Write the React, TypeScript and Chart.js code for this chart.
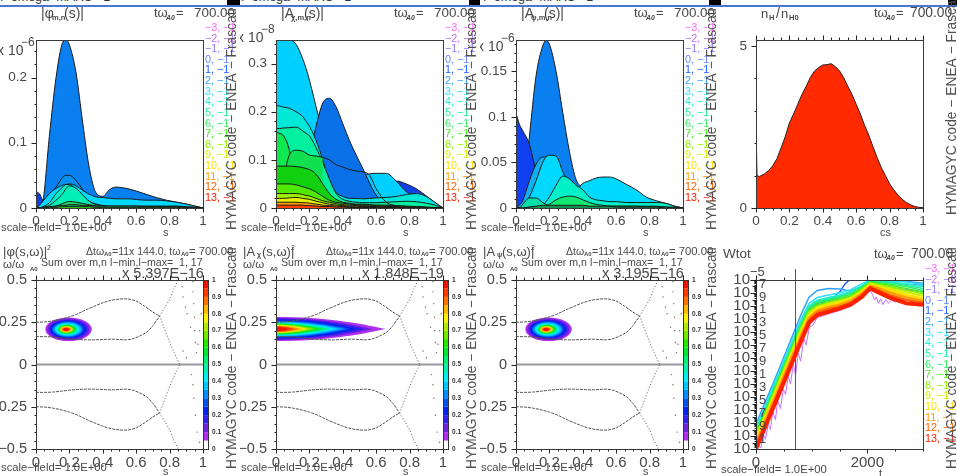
import React, { useEffect, useRef } from "react";
import { Chart, registerables } from "chart.js";
Chart.register(...registerables);

const FONT = '"Liberation Sans", Arial, sans-serif';
const modeLabels = ["−3, −1","−2, −1","−1, −1","0, −1","1, −1","2, −1","3, −1","4, −1","5, −1","6, −1","7, −1","8, −1","9, −1","10, −1","11, −1","12, −1","13, −1"];
const modeColors = ["#ff66ff","#c070ff","#9080ff","#6080ff","#2060ff","#30a0ff","#30e0ff","#20f0d0","#20f0a0","#30f060","#40f020","#90f000","#d0f000","#ffe000","#ffa000","#ff6000","#ff2000"];
const barColors = ["#ffffff","#b030f0","#7020e0","#3020f0","#0020f0","#0050f0","#0090ff","#00c8ff","#00f0f0","#00f0b0","#00f070","#00e830","#20e800","#70e800","#b0e800","#f8f000","#ffb800","#ff7000","#ff3800","#f01000"];
const barTicks = ["0","0.1","0.2","0.3","0.4","0.5","0.6","0.7","0.8","0.9","1"];

const S = [0,.02,.04,.08,.12,.16,.18,.2,.24,.28,.32,.36,.4,.44,.48,.52,.56,.6,.66,.72,.78,.84,.9,.95,1];

const phiCurves: [string, number[], number?][] = [
  ["#0a80f0",[0,0,.008,.11,.2,.254,.258,.25,.207,.13,.06,.023,.018,.028,.032,.031,.029,.026,.021,.016,.012,.009,.006,.003,0]],
  ["#1040e8",[.025,.022,.012,0,0,0,0,0,0,0,0,0,0,0,0,0,0,0,0,0,0,0,0,0,0]],
  ["#0a90f0",[0,.002,.006,.018,.032,.047,.05,.05,.042,.028,.014,.006,.003,.002,.001,.001,0,0,0,0,0,0,0,0,0]],
  ["#00d8ff",[0,.004,.01,.022,.03,.035,.036,.037,.034,.027,.021,.017,.016,.015,.014,.014,.014,.013,.012,.012,.011,.009,.006,.003,0]],
  ["#00f0c8",[0,0,.002,.008,.022,.032,.036,.036,.028,.018,.01,.006,.004,.003,.003,.003,.003,.003,.003,.003,.003,.003,.002,.001,0]],
  ["#00f0b8",[0,0,.001,.004,.012,.022,.03,.034,.03,.02,.01,.005,.003,.002,.002,.002,.002,.002,.002,.002,.002,.002,.001,.001,0]],
  ["#20d060",[0,0,0,.001,.003,.007,.009,.01,.009,.007,.005,.003,.002,.002,.002,.002,.002,.002,.001,.001,.001,.001,.001,0,0]],
  ["#10a060",[0,0,.001,.002,.003,.004,.004,.005,.005,.004,.004,.003,.003,.003,.003,.003,.003,.003,.002,.002,.002,.002,.001,.001,0]],
  ["#30e000",[0,0,0,.001,.001,.002,.002,.002,.002,.002,.002,.001,.001,.001,.001,.001,.001,.001,.001,.001,.001,.001,0,0,0]],
];

const chiCurves: [string, number[], number?][] = [
  ["#1040e8",[0,0,0,0,0,0,0,0,0,0,0,0,.01,.02,.03,.04,.045,.05,.054,.056,.05,.04,.025,.012,0]],
  ["#00d0ff",[.349,.349,.349,.349,.34,.31,.29,.266,.21,.155,.1,.062,.05,.056,.062,.068,.071,.072,.072,.056,.034,.025,.018,.008,0]],
  ["#0a70e8",[0,0,0,0,.002,.05,.078,.107,.17,.218,.228,.21,.175,.14,.11,.082,.052,.027,.01,.002,0,0,0,0,0]],
  ["#00e8d8",[.213,.212,.21,.207,.2,.19,.18,.17,.14,.1,.052,.032,.024,.02,.02,.019,.02,.021,.022,.024,.028,.03,.024,.012,0]],
  ["#00f0a0",[.165,.165,.166,.167,.168,.16,.155,.15,.125,.095,.06,.03,.018,.014,.012,.011,.011,.011,.012,.013,.014,.013,.01,.006,0]],
  ["#10e850",[.158,.155,.152,.12,.04,.006,.003,.002,.002,.002,.002,.002,.002,.002,.002,.002,.002,.002,.002,.002,.002,.002,.001,.001,0]],
  ["#10e050",[0,.01,.05,.11,.12,.118,.114,.11,.108,.105,.1,.09,.085,.08,.077,.075,.068,.04,.012,.005,.003,.002,.001,0,0],.28],
  ["#10d010",[.087,.087,.087,.087,.086,.084,.082,.08,.07,.05,.03,.018,.012,.01,.008,.008,.007,.006,.006,.005,.004,.003,.002,.001,0]],
  ["#50e800",[.05,.05,.05,.05,.048,.044,.042,.04,.033,.024,.016,.012,.01,.008,.007,.006,.006,.005,.004,.004,.003,.002,.001,0,0]],
  ["#a0f000",[.03,.03,.03,.03,.03,.028,.026,.025,.02,.015,.012,.009,.007,.006,.005,.005,.004,.004,.003,.003,.002,.002,.001,0,0]],
  ["#e8f000",[.02,.02,.02,.021,.022,.02,.019,.018,.014,.011,.008,.006,.005,.004,.004,.003,.003,.003,.002,.002,.001,.001,0,0,0]],
  ["#ffa000",[.012,.012,.012,.012,.012,.011,.011,.01,.008,.006,.005,.004,.003,.003,.002,.002,.002,.002,.001,.001,.001,0,0,0,0]],
  ["#ff4000",[.006,.006,.006,.006,.006,.006,.005,.005,.004,.003,.003,.002,.002,.001,.001,.001,.001,.001,0,0,0,0,0,0,0]],
];

const psiCurves: [string, number[], number?][] = [
  ["#0a80f0",[0,0,.008,.078,.145,.178,.184,.18,.15,.105,.062,.031,.022,.012,.008,.006,.004,.003,.002,.001,0,0,0,0,0]],
  ["#1040f0",[.104,.092,.085,.07,.04,.015,.01,.005,0,0,0,0,0,0,0,0,0,0,0,0,0,0,0,0,0]],
  ["#10b0f0",[0,.003,.008,.03,.048,.056,.056,.053,.035,.015,.005,.002,.001,0,0,0,0,0,0,0,0,0,0,0,0]],
  ["#00d8ff",[0,0,.002,.012,.03,.05,.056,.058,.057,.04,.024,.02,.027,.03,.033,.034,.034,.032,.026,.02,.012,.008,.005,.002,0]],
  ["#00f0c8",[0,0,0,0,.001,.003,.007,.012,.025,.035,.032,.025,.02,.012,.009,.008,.007,.007,.006,.006,.006,.006,.005,.002,0]],
  ["#00e0a8",[0,0,.004,.011,.011,.006,.004,.003,.002,.002,.002,.002,.002,.002,.002,.002,.002,.002,.002,.002,.002,.002,.001,.001,0]],
  ["#10e870",[0,0,0,.001,.001,.002,.002,.004,.009,.012,.013,.012,.009,.006,.004,.003,.002,.002,.002,.002,.001,.001,.001,0,0]],
  ["#109050",[0,0,0,.001,.002,.003,.003,.003,.003,.003,.003,.003,.003,.002,.002,.002,.002,.001,.001,.001,.001,.001,0,0,0]],
];

const csGrid = [0,.002,.006,.02,.05,.075,.1,.125,.15,.175,.2,.225,.25,.275,.3,.325,.35,.375,.4,.425,.45,.475,.5,.525,.55,.575,.6,.625,.65,.675,.7,.725,.75,.775,.8,.825,.85,.875,.9,.925,.95,.975,1];
const density = [4.1,2.1,1.0,.97,1.05,1.15,1.3,1.52,1.85,2.2,2.62,2.9,3.2,3.5,3.75,4.02,4.22,4.33,4.41,4.42,4.45,4.36,4.23,4.02,3.75,3.5,3.2,2.9,2.55,2.25,1.9,1.56,1.25,1.0,.75,.56,.4,.27,.17,.1,.05,.02,.01];

const upperS = [0,.05,.1,.15,.2,.25,.3,.35,.4,.45,.5,.55,.6,.65,.7,.74];
const upperW = [.25,.252,.258,.268,.282,.3,.324,.345,.365,.38,.387,.388,.375,.345,.31,.287];
const lowerS = [0,.05,.1,.15,.2,.25,.3,.35,.4,.45,.5,.54,.58,.62,.66,.7,.74];
const lowerW = [.165,.165,.163,.158,.152,.148,.146,.146,.148,.15,.148,.146,.152,.168,.19,.23,.287];
const riseS = [.74,.77,.8,.825,.85];
const riseW = [.287,.335,.387,.445,.5];
const fallS = [.74,.77,.8,.83,.86];
const fallW = [.287,.21,.13,.065,0];
const dotS = [.87,.875,.88,.895,.905,.925,.94,.94,.945,.95,.95,.955,.96,.97,.98,.99,.88,.9,.93,.94,.945,.955,.965,.98];
const dotW = [.5,.46,.4,.34,.3,.22,.49,.43,.36,.28,.2,.13,.07,.12,.2,.3,.08,.04,-.06,-.12,-.2,-.3,-.4,-.46];

const phiRingS = [.139,.127,.115,.105,.095,.087,.078,.07,.062,.054,.05,.046,.042,.038,.034,.03,.026,.02,.014];
const phiRingW = [.0695,.0635,.0575,.0525,.0475,.0435,.039,.035,.031,.027,.025,.023,.021,.019,.017,.015,.013,.01,.007];
const phiRingC = [.195,.194,.193,.192,.191,.19,.189,.188,.187,.186,.185,.184,.183,.182,.182,.181,.181,.18,.18];
const chiTipS = [.656,.58,.535,.485,.445,.415,.385,.355,.33,.305,.275,.255,.235,.21,.185,.165,.135,.105,.075];
const chiHalfW = [.071,.065,.06,.055,.05,.046,.042,.038,.035,.032,.03,.028,.026,.024,.022,.02,.018,.015,.011];

const wT = [0,400,800,950,1100,1300,1500,1700,1900,2050,2200,2400,2700,3000];
const wSeries: number[][] = [
  [-29.8,-21.6,-13.4,-10.6,-9.6,-9.1,-8.7,-8.2,-7.2,-6.3,-7,-7.6,-8,-8.2],
  [],
  [-29.2,-21,-12.8,-10,-9,-8.4,-8,-7.5,-6.5,-5.5,-5.8,-6.2,-6.5,-6.8],
  [-28.8,-20.6,-12.4,-9.6,-8.6,-8,-7.6,-6.8,-6,-5.1,-5.2,-5.4,-5.6,-5.8],
  [],
  [-27.2,-19,-10.5,-7.7,-6.6,-6.3,-6.4,-6.7,-6,-5,-5,-5.1,-5.2,-5.5],
  [-27.7,-19.5,-11.2,-8.6,-7.7,-7.3,-7,-6.5,-5.6,-5,-5.1,-5.2,-5.3,-5.7],
  [-28,-19.8,-11.6,-9,-8.1,-7.7,-7.3,-6.8,-5.9,-5.1,-5.2,-5.3,-5.6,-6],
  [-28.2,-20,-11.8,-9.2,-8.3,-7.9,-7.5,-7,-6,-5.2,-5.3,-5.4,-5.8,-6.3],
  [-28.4,-20.2,-12,-9.4,-8.5,-8.1,-7.7,-7.2,-6.2,-5.3,-5.4,-5.6,-6,-6.6],
  [-28.7,-20.5,-12.3,-9.7,-8.8,-8.3,-7.9,-7.4,-6.3,-5.4,-5.5,-5.8,-6.3,-6.9],
  [-29,-20.8,-12.6,-9.9,-9,-8.5,-8.1,-7.6,-6.5,-5.5,-5.7,-6,-6.6,-7.1],
  [-29.3,-21.1,-12.9,-10.2,-9.2,-8.7,-8.3,-7.8,-6.7,-5.6,-5.9,-6.3,-6.9,-7.4],
  [-29.7,-21.5,-13.3,-10.5,-9.4,-8.9,-8.5,-8,-6.9,-5.8,-6.1,-6.6,-7.3,-7.8],
  [-30,-21.8,-13.6,-10.8,-9.7,-9.2,-8.8,-8.2,-7.1,-5.9,-6.3,-6.9,-7.7,-8.2],
  [-30.5,-22.3,-14.1,-11.2,-10,-9.5,-9.1,-8.5,-7.3,-6.1,-6.6,-7.3,-8.1,-8.5],
  [-31,-22.8,-14.6,-11.6,-10.4,-9.9,-9.4,-8.8,-7.6,-6.3,-6.9,-7.7,-8.6,-8.8],
];
const blueT = [0,400,800,950,1000,1050,1100,1150,1200,1250,1300,1350,1400,1450,1500,1550,1600,1700,3000];
const blueW = [-28.5,-20.3,-12,-9.4,-8.9,-8.4,-8.7,-8.1,-8.5,-7.9,-8.2,-7.6,-7.8,-7.1,-6.9,-6.2,-5.6,-4.8,-4.8];
const purpleT = [0,50,90,130,170,220,260,300,350,390,440,490,530,580,620,670,710,760,800,860,900,960,1020,1100,1300,1500,1700,1900,2000,2050,2090,2130,2160,2200,2240,2280,2330,2380,2430,2500,2560,2620,2700,2780,2860,2940,3000];
const purpleW = [-31,-30.5,-30.8,-28.7,-29.5,-27.2,-28,-25.2,-26.5,-23.5,-24.8,-21.8,-22.6,-19.8,-21,-18,-19.6,-16.2,-17.5,-14,-15,-12.2,-12,-10.8,-10.2,-9.7,-9,-7.8,-6.8,-6.6,-7.2,-8.1,-7.6,-8.6,-7.9,-8.8,-8,-8.6,-8.1,-8.4,-8.1,-8.3,-8.1,-8.3,-8.2,-8.4,-8.2];
const wExp = [-5,-7,-9,-11,-13,-15,-17,-19,-21,-23,-25,-27,-29,-31];
const currentT = 700;

type Note = [string, number, number, number, string?, number?, string?];

function topHead(title: Note[], valueX = 194): Note[] {
  return [
    ...title,
    ["tω", 154, 13, 13],
    ["A0", 166, 18, 7, "left", 0, "bold italic"],
    ["=", 176, 13, 13],
    ["700.00", valueX, 13, 13.4],
  ];
}
function side(x: number, y: number): Note { return ["HYMAGYC code − ENEA − Frascati", x, y, 13.8, "left", -90]; }
function sf(y: number, x = 1): Note { return ["scale−field= 1.0E+00", x, y, 11.3]; }

function frame(chart: any, o: any) {
  const { ctx, chartArea: a, scales: { x, y } } = chart;
  ctx.save();
  ctx.strokeStyle = "#3a3a3a"; ctx.lineWidth = 1;
  ctx.strokeRect(a.left + .5, a.top + .5, a.right - a.left, a.bottom - a.top);
  ctx.strokeStyle = "#222";
  const tick = (x0: number, y0: number, x1: number, y1: number) => { ctx.beginPath(); ctx.moveTo(Math.round(x0) + .5, Math.round(y0) + .5); ctx.lineTo(Math.round(x1) + .5, Math.round(y1) + .5); ctx.stroke(); };
  for (let v = x.min; v <= x.max + 1e-6; v += o.xMinor) {
    const k = Math.abs(v / o.xMajor - Math.round(v / o.xMajor)) < 1e-6;
    const p = x.getPixelForValue(v), l = k ? 4 : 2;
    tick(p, a.bottom, p, a.bottom + l);
    if (o.topTicks) tick(p, a.top, p, a.top - l - 1);
  }
  for (const [v, l] of o.yMarks(y) as [number, number][]) {
    const p = y.getPixelForValue(v);
    tick(a.left, p, a.left - l, p);
  }
  ctx.restore();
}

function drawNotes(chart: any, o: any) {
  const ctx = chart.ctx;
  ctx.save();
  ctx.textBaseline = "middle";
  if (o.legendY !== undefined) {
    ctx.font = `10.8px ${FONT}`; ctx.textAlign = "left";
    modeLabels.forEach((t, i) => { ctx.fillStyle = modeColors[i]; ctx.fillText(t, 205, o.legendY + i * 10.62); });
  }
  (o.notes as Note[]).forEach(([t, x, y, size, align, rot, style]) => {
    ctx.save();
    ctx.translate(x, y);
    if (rot) ctx.rotate(rot * Math.PI / 180);
    ctx.font = `${style || ""} ${size}px ${FONT}`;
    ctx.textAlign = (align as any) || "left";
    ctx.fillStyle = rot ? "#505050" : "#484848";
    ctx.fillText(t, 0, 0);
    ctx.restore();
  });
  ctx.restore();
}

function rings(chart: any, o: any) {
  if (!o.heat) return;
  const { ctx, chartArea: a, scales: { x, y } } = chart;
  ctx.save();
  ctx.beginPath(); ctx.rect(a.left, a.top, a.right - a.left, a.bottom - a.top); ctx.clip();
  const px = (v: number) => x.getPixelForValue(v), py = (v: number) => y.getPixelForValue(v);
  if (o.heat === "ellipse") {
    o.rs.forEach((r: number, i: number) => {
      ctx.fillStyle = barColors[i + 1];
      ctx.beginPath();
      ctx.ellipse(px(o.cs[i]), py(o.c[1]), px(r) - px(0), py(0) - py(o.rw[i]), 0, 0, Math.PI * 2);
      ctx.fill();
    });
  } else {
    o.rs.forEach((tip: number, i: number) => {
      const h = o.rw[i], c = o.c[1];
      ctx.fillStyle = barColors[i + 1];
      ctx.beginPath();
      ctx.moveTo(px(0), py(c + h));
      ctx.bezierCurveTo(px(tip * .45), py(c + h), px(tip * .75), py(c + h * .5), px(tip), py(c));
      ctx.bezierCurveTo(px(tip * .75), py(c - h * .5), px(tip * .45), py(c - h), px(0), py(c - h));
      ctx.closePath();
      ctx.fill();
    });
  }
  ctx.restore();
}

function colorbar(chart: any) {
  const { ctx, scales: { y } } = chart;
  ctx.save();
  barColors.forEach((c, i) => {
    const p0 = y.getPixelForValue(-.5 + i / 20), p1 = y.getPixelForValue(-.5 + (i + 1) / 20);
    ctx.fillStyle = c; ctx.fillRect(204, p1, 5, p0 - p1);
  });
  ctx.strokeStyle = "#333"; ctx.strokeRect(203.5, y.getPixelForValue(.5) + .5, 5, y.getPixelForValue(-.5) - y.getPixelForValue(.5));
  ctx.fillStyle = "#333"; ctx.font = `bold 6.5px ${FONT}`; ctx.textAlign = "left"; ctx.textBaseline = "middle";
  barTicks.forEach((t) => ctx.fillText(t, 212, y.getPixelForValue(-.5 + Number(t))));
  ctx.restore();
}

function linMarks(min: number, max: number, minor: number, major: number) {
  return () => {
    const out: [number, number][] = [];
    const n = Math.round((max - min) / minor);
    for (let i = 0; i <= n; i++) {
      const v = min + i * minor;
      const k = Math.abs(v / major - Math.round(v / major)) < 1e-6;
      out.push([v, k ? 5 : 2]);
    }
    return out;
  };
}
function logMarks() {
  const out: [number, number][] = [];
  for (let e = -31; e < -5; e++) {
    for (let m = 1; m < 10; m++) out.push([m * Math.pow(10, e), m === 1 ? (e % 2 ? 6 : 4) : 2]);
  }
  out.push([1e-5, 6]);
  return out;
}

function curveSets(cs: [string, number[], number?][]) {
  return cs.map(([c, v, cut], i) => ({
    data: v.map((y, k) => ({ x: S[k], y })),
    borderColor: "#1a1a1a", borderWidth: 1, backgroundColor: c, fill: "origin" as const,
    pointRadius: 0, tension: .3, cubicInterpolationMode: "monotone" as const, order: -i,
    segment: cut === undefined ? undefined : { backgroundColor: (ctx: any) => (ctx.p0.parsed.x >= cut ? "rgba(0,0,0,0)" : c) },
  }));
}
function gapSets() {
  const pair = (s: number[], w: number[], sign: number, dash: number[], col: string) => ({
    data: s.map((x, k) => ({ x, y: sign * w[k] })), borderColor: col, borderWidth: 1, borderDash: dash, pointRadius: 0, tension: .3, fill: false,
  });
  const out: any[] = [];
  [1, -1].forEach((sg) => {
    out.push(pair(upperS, upperW, sg, [3, 1], "#555"), pair(lowerS, lowerW, sg, [3, 1], "#555"));
    out.push(pair(riseS, riseW, sg, [1, 2], "#555"), pair(fallS, fallW, sg, [1, 2], "#555"));
  });
  out.push({ data: [{ x: 0, y: 0 }, { x: 1, y: 0 }], borderColor: "#9a9a9a", borderWidth: 2, pointRadius: 0, fill: false });
  out.push({ data: dotS.map((x, k) => ({ x, y: dotW[k] })), showLine: false, pointRadius: .7, pointBackgroundColor: "#666", pointBorderWidth: 0, fill: false });
  return out;
}
function wSets() {
  return modeLabels.map((_, i) => {
    const xs = i === 1 ? purpleT : i === 4 ? blueT : wT;
    const ys = i === 1 ? purpleW : i === 4 ? blueW : wSeries[i];
    return {
      data: ys.map((e, k) => ({ x: xs[k], y: Math.pow(10, e) })),
      borderColor: i === 1 ? "#c070ff" : modeColors[i], borderWidth: i === 16 ? 4 : i >= 12 ? 2.5 : i === 1 ? 1 : 1.5,
      pointRadius: 0, tension: 0, fill: false, order: -i,
    };
  });
}

const sTicks = [0, .2, .4, .6, .8, 1];
const wTicks = [-.5, -.25, 0, .25, .5];
const tickLabel = (v: number) => (v < 0 ? "−" + String(-v) : String(v));

function scales(p: any) {
  const big = p.row === 1;
  return {
    x: {
      type: "linear", min: p.xMin ?? 0, max: p.xMax ?? 1,
      grid: { display: false, drawTicks: false }, border: { display: false },
      afterBuildTicks: (s: any) => { s.ticks = (p.xTicks ?? sTicks).map((value: number) => ({ value })); },
      afterFit: (s: any) => { s.height = big ? 27 : 30; },
      ticks: { autoSkip: false, maxRotation: 0, padding: 5, color: "#484848", font: { family: FONT, size: big ? 15 : 13.5 }, callback: (v: number) => String(v) },
    },
    y: {
      type: p.log ? "logarithmic" : "linear", min: p.yMin, max: p.yMax,
      grid: { display: false, drawTicks: false }, border: { display: false },
      afterBuildTicks: (s: any) => { s.ticks = p.yTicks.map((value: number) => ({ value })); },
      afterFit: (s: any) => { s.width = 36; },
      ticks: { autoSkip: false, padding: p.log ? 6 : 9, color: "#484848", font: { family: FONT, size: p.log ? 15 : big ? 14.5 : 13.5 }, callback: p.log ? () => "10" : tickLabel },
    },
  };
}

const hdr2 = (t: Note[], mult: string): Note[] => [
  ...t,
  ["Δtω", 86, 14, 10.5], ["A0", 104, 16, 6, "left", 0, "bold"],
  ["=11x 144.0, tω", 112, 14, 10.5], ["A0", 181, 16, 6, "left", 0, "bold"], ["= 700.00", 189, 14, 11.3],
  ["ω/ω", 3, 27, 11.5], ["A0", 30, 31, 6, "left", 0, "bold"],
  ["Sum over m,n l−min,l−max=  1, 17", 41, 25, 10.6],
  [mult, 122, 36, 14.5],
  sf(230),
  ["s", 163, 234, 11],
  side(232, 231),
];

const panels: any[] = [
  { ox: 0, row: 0, datasets: () => curveSets(phiCurves), yMin: 0, yMax: .2575, yTicks: [0, .1, .2], yMarks: linMarks(0, .24, .02, .1), xMinor: .05, xMajor: .2, legendY: 28,
    notes: [...topHead([["|φ", 41, 14, 14], ["m,n", 52, 18, 7.5, "left", 0, "bold"], ["(s)|", 64, 14, 14]]), ["x 10", -3, 51, 14], ["−6", 21, 43, 12], sf(228), ["s", 163, 233, 11], side(232, 230)] },
  { ox: 240, row: 0, datasets: () => curveSets(chiCurves), yMin: 0, yMax: .349, yTicks: [0, .1, .2, .3], yMarks: linMarks(0, .34, .02, .1), xMinor: .05, xMajor: .2, legendY: 28,
    notes: [...topHead([["|A", 41, 14, 14], ["χ,m,n", 51, 18, 7.5, "left", 0, "bold"], ["(s)|", 64, 14, 14]]), ["x 10", -3, 38, 14], ["−8", 21, 30, 12], sf(228), ["s", 163, 233, 11], side(232, 230)] },
  { ox: 480, row: 0, datasets: () => curveSets(psiCurves), yMin: 0, yMax: .1845, yTicks: [0, .05, .1, .15], yMarks: linMarks(0, .18, .01, .05), xMinor: .05, xMajor: .2, legendY: 28,
    notes: [...topHead([["|A", 41, 14, 14], ["ψ,m,n", 51, 18, 7.5, "left", 0, "bold"], ["(s)|", 64, 14, 14]]), ["x 10", -3, 47, 14], ["−6", 21, 39, 12], sf(228), ["s", 163, 233, 11], side(232, 230)] },
  { ox: 720, row: 0, w: 237, topTicks: true,
    datasets: () => [{ data: density.map((y, k) => ({ x: csGrid[k], y })), borderColor: "#222", borderWidth: 1, backgroundColor: "#ff2a00", fill: "origin", pointRadius: 0, tension: 0 }],
    yMin: 0, yMax: 5.18, yTicks: [0, 5], yMarks: linMarks(0, 5, 1, 5), xMinor: .05, xMajor: .2,
    notes: [["n", 41, 14, 13], ["H", 49, 18, 7.5, "left", 0, "bold"], ["/", 56, 14, 14], ["n", 61, 14, 13], ["H0", 69, 18, 7.5, "left", 0, "bold"],
      ["tω", 154, 13, 13], ["A0", 166, 18, 7, "left", 0, "bold italic"], ["=", 176, 13, 13], ["700.00", 190, 13, 13.8],
      ["cs", 160, 233, 11], side(232, 215)] },
  { ox: 0, row: 1, bar: true, topTicks: true, datasets: gapSets, yMin: -.5, yMax: .5, yTicks: wTicks, yMarks: linMarks(-.5, .5, .05, .25), xMinor: .05, xMajor: .2,
    heat: "ellipse", rs: phiRingS, rw: phiRingW, cs: phiRingC, c: [.18, .208],
    notes: hdr2([["|φ(s,ω)|", 3, 14, 13], ["2", 47, 10, 7]], "x 5.397E−16") },
  { ox: 240, row: 1, bar: true, topTicks: true, datasets: gapSets, yMin: -.5, yMax: .5, yTicks: wTicks, yMarks: linMarks(-.5, .5, .05, .25), xMinor: .05, xMajor: .2,
    heat: "tear", rs: chiTipS, rw: chiHalfW, c: [0, .21],
    notes: hdr2([["|A", 3, 14, 13], ["χ", 17, 17, 7, "left", 0, "bold"], ["(s,ω)|", 22, 14, 13], ["2", 51, 10, 7]], "x 1.848E−19") },
  { ox: 480, row: 1, bar: true, topTicks: true, datasets: gapSets, yMin: -.5, yMax: .5, yTicks: wTicks, yMarks: linMarks(-.5, .5, .05, .25), xMinor: .05, xMajor: .2,
    heat: "ellipse", rs: phiRingS, rw: phiRingW, cs: phiRingC, c: [.18, .208],
    notes: hdr2([["|A", 3, 14, 13], ["ψ", 17, 17, 7, "left", 0, "bold"], ["(s,ω)|", 22, 14, 13], ["2", 51, 10, 7]], "x 3.195E−16") },
  { ox: 720, row: 1, w: 237, log: true, topTicks: true, datasets: wSets, xMin: 0, xMax: 3000, xTicks: [0, 2000], xMinor: 500, xMajor: 2000,
    yMin: 1e-31, yMax: 1e-5, yTicks: wExp.map((e) => Math.pow(10, e)), yMarks: logMarks, legendY: 31, vline: currentT,
    notes: [["Wtot", 3, 16, 13.5], ["tω", 154, 16, 13], ["A0", 166, 20, 7, "left", 0, "bold italic"], ["=", 176, 16, 13], ["700.00", 191, 16, 13.8],
      ["−5", 30, 34, 13], ...wExp.slice(1).map((e, i): Note => [String(-e % 10), 39, 46 + i * 12.95, 13]),
      sf(232), ["t", 159, 236, 11], side(232, 231)] },
];

function Panel({ p }: { p: any }) {
  const ref = useRef<HTMLCanvasElement>(null);
  const w = p.w ?? 240;
  useEffect(() => {
    const plugin = {
      id: "panelArt",
      beforeDatasetsDraw: (c: any) => rings(c, p),
      afterDraw: (c: any) => {
        if (p.vline !== undefined) {
          const { ctx, chartArea: a, scales: { x } } = c;
          const px = Math.round(x.getPixelForValue(p.vline)) + .5;
          ctx.save(); ctx.strokeStyle = "#555"; ctx.beginPath(); ctx.moveTo(px, a.top - 11); ctx.lineTo(px, a.bottom); ctx.stroke(); ctx.restore();
        }
        frame(c, p);
        if (p.bar) colorbar(c);
        drawNotes(c, p);
      },
    };
    const chart = new Chart(ref.current!, {
      type: "line",
      data: { datasets: p.datasets() },
      plugins: [plugin],
      options: {
        responsive: false, animation: false, parsing: false as any,
        layout: { padding: { top: p.row === 1 ? 42 : 40, right: w - 203, left: 0, bottom: 0 } },
        plugins: { legend: { display: false }, tooltip: { enabled: false }, title: { display: false } },
        scales: scales(p) as any,
      },
    });
    return () => chart.destroy();
  }, []);
  return <canvas ref={ref} width={w} height={238} style={{ position: "absolute", left: p.ox, top: p.row === 1 ? 238 : 0, width: w, height: 238 }} />;
}

const stripTexts = [0, 241, 483];
const stripBlocks = [[227, 13], [469, 11], [709, 12], [948, 9]];

export default function App() {
  return (
    <div style={{ position: "fixed", left: 0, top: 0, width: 957, height: 476, overflow: "hidden", background: "#fff", filter: "blur(0.45px)" }}>
      {stripTexts.map((x) => (
        <div key={x} style={{ position: "absolute", left: x, top: -10, font: `12.5px ${FONT}`, color: "#333", whiteSpace: "nowrap" }}>f−omega−MARS= 1</div>
      ))}
      {stripBlocks.map(([x, w]) => <div key={x} style={{ position: "absolute", left: x, top: 0, width: w, height: 5, background: "#000" }} />)}
      <div style={{ position: "absolute", left: 0, top: 5, width: 957, height: 2, background: "#4a78d0" }} />
      {panels.map((p, i) => <Panel key={i} p={p} />)}
    </div>
  );
}
